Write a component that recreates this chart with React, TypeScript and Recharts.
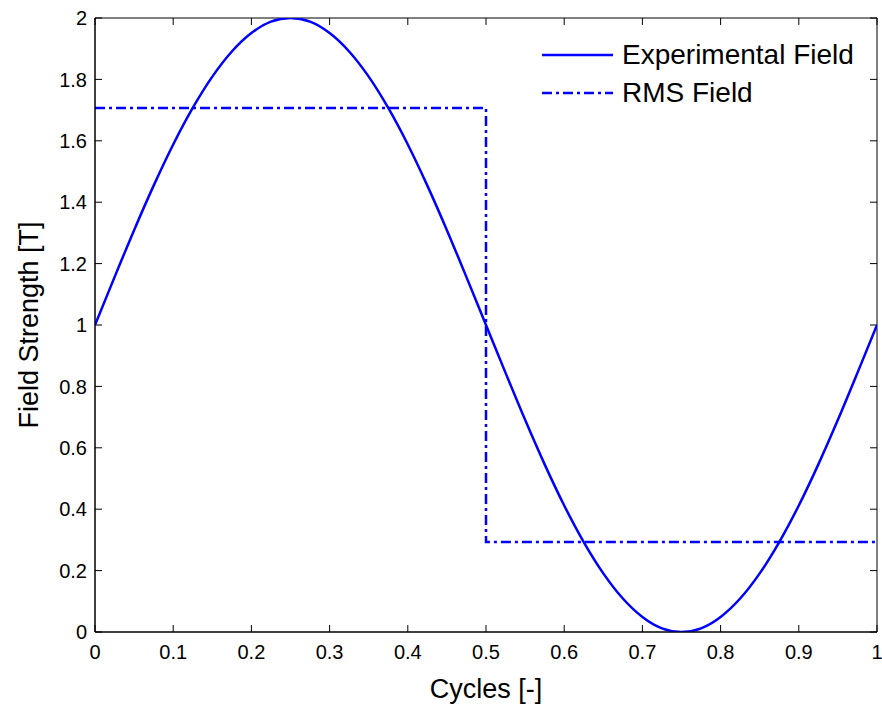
import React from "react";
import { LineChart, Line, XAxis, YAxis, Legend, ReferenceLine, ReferenceArea } from "recharts";

const FONT = '"Liberation Sans", Arial, Helvetica, sans-serif';
const BLUE = "#0000ff";

// Experimental field
const cycles = [
  0, 0.025, 0.05, 0.075, 0.1, 0.125, 0.15, 0.175, 0.2, 0.225, 0.25, 0.275, 0.3,
  0.325, 0.35, 0.375, 0.4, 0.425, 0.45, 0.475, 0.5, 0.525, 0.55, 0.575, 0.6,
  0.625, 0.65, 0.675, 0.7, 0.725, 0.75, 0.775, 0.8, 0.825, 0.85, 0.875, 0.9,
  0.925, 0.95, 0.975, 1,
];
const fieldValues = [
  1.0, 1.156, 1.309, 1.454, 1.588, 1.707, 1.809, 1.891, 1.951, 1.988, 2.0,
  1.988, 1.951, 1.891, 1.809, 1.707, 1.588, 1.454, 1.309, 1.156, 1.0, 0.844,
  0.691, 0.546, 0.412, 0.293, 0.191, 0.109, 0.049, 0.012, 0.0, 0.012, 0.049,
  0.109, 0.191, 0.293, 0.412, 0.546, 0.691, 0.844, 1.0,
];

// RMS field (step)
const rmsCycles = [0, 0.5, 0.5, 1];
const rmsValues = [1.707, 1.707, 0.293, 0.293];

const xTicks = [0, 0.1, 0.2, 0.3, 0.4, 0.5, 0.6, 0.7, 0.8, 0.9, 1];
const yTicks = [0, 0.2, 0.4, 0.6, 0.8, 1, 1.2, 1.4, 1.6, 1.8, 2];
const X_DOMAIN: [number, number] = [0, 1];
const Y_DOMAIN: [number, number] = [0, 2];

const seriesNames = ["Experimental Field", "RMS Field"];
const xLabel = "Cycles [-]";
const yLabel = "Field Strength [T]";

const fieldData = cycles.map((c, i) => ({ x: c, y: fieldValues[i] }));
const rmsData = rmsCycles.map((c, i) => ({ x: c, y: rmsValues[i] }));

// inward tick length as a fraction of each axis range (about 7px)
const X_TICK_FRAC = 0.009;
const Y_TICK_FRAC = 0.0114;

const DASH = "10 4 3 4";
const tickStyle = { fontSize: 20, fill: "#000", fontFamily: FONT };
const axisStyle = { stroke: "#000", strokeWidth: 1 };
const FRAME = "#000";

const LegendContent = () => (
  <div style={{ fontFamily: FONT, fontSize: 28, color: "#000", lineHeight: "38px" }}>
    {seriesNames.map((name, i) => (
      <div key={name} style={{ display: "flex", alignItems: "center", height: 38 }}>
        <svg width={82} height={38} style={{ display: "block" }}>
          <line
            x1={2}
            x2={73}
            y1={19}
            y2={19}
            stroke={BLUE}
            strokeWidth={2.5}
            strokeDasharray={i === 1 ? DASH : undefined}
          />
        </svg>
        <span style={{ whiteSpace: "nowrap" }}>{name}</span>
      </div>
    ))}
  </div>
);

export default function App() {
  const [x0, x1] = X_DOMAIN;
  const [y0, y1] = Y_DOMAIN;
  const dy = (y1 - y0) * Y_TICK_FRAC;
  const dx = (x1 - x0) * X_TICK_FRAC;
  return (
    <div style={{ position: "absolute", left: 0, top: 0, width: 882, height: 704, background: "#fff" }}>
      <LineChart
        width={882}
        height={704}
        margin={{ top: 18, right: 5, bottom: 0, left: 0 }}
        style={{ fontFamily: FONT }}
      >
        <XAxis
          dataKey="x"
          type="number"
          domain={X_DOMAIN}
          ticks={xTicks}
          height={72}
          tickSize={0}
          tickMargin={13}
          tickLine={false}
          axisLine={axisStyle}
          tick={tickStyle}
          interval={0}
          allowDataOverflow
          label={{ value: xLabel, position: "insideBottom", offset: 6, fontSize: 27, fill: "#000", fontFamily: FONT }}
        />
        <YAxis
          dataKey="y"
          type="number"
          domain={Y_DOMAIN}
          ticks={yTicks}
          width={95}
          tickSize={0}
          tickMargin={8}
          tickLine={false}
          axisLine={axisStyle}
          tick={tickStyle}
          interval={0}
          allowDataOverflow
          label={{
            value: yLabel,
            angle: -90,
            position: "insideLeft",
            offset: 28,
            style: { textAnchor: "middle" },
            fontSize: 27,
            fill: "#000",
            fontFamily: FONT,
          }}
        />
        <ReferenceArea x1={x0} x2={x1} y1={y0} y2={y1} fill="none" stroke={FRAME} strokeWidth={1} ifOverflow="visible" />
        {xTicks.map((t) => (
          <ReferenceLine
            key={`xb${t}`}
            segment={[{ x: t, y: y0 }, { x: t, y: y0 + dy }]}
            stroke={FRAME}
            strokeWidth={1}
            ifOverflow="visible"
          />
        ))}
        {xTicks.map((t) => (
          <ReferenceLine
            key={`xt${t}`}
            segment={[{ x: t, y: y1 }, { x: t, y: y1 - dy }]}
            stroke={FRAME}
            strokeWidth={1}
            ifOverflow="visible"
          />
        ))}
        {yTicks.map((t) => (
          <ReferenceLine
            key={`yl${t}`}
            segment={[{ x: x0, y: t }, { x: x0 + dx, y: t }]}
            stroke={FRAME}
            strokeWidth={1}
            ifOverflow="visible"
          />
        ))}
        {yTicks.map((t) => (
          <ReferenceLine
            key={`yr${t}`}
            segment={[{ x: x1, y: t }, { x: x1 - dx, y: t }]}
            stroke={FRAME}
            strokeWidth={1}
            ifOverflow="visible"
          />
        ))}
        <Legend
          layout="vertical"
          align="center"
          verticalAlign="middle"
          content={<LegendContent />}
          wrapperStyle={{ position: "absolute", left: 540, top: 36, width: 340, height: 80 }}
        />
        <Line
          data={fieldData}
          dataKey="y"
          name={seriesNames[0]}
          type="monotone"
          stroke={BLUE}
          strokeWidth={2.5}
          dot={false}
          activeDot={false}
          isAnimationActive={false}
        />
        <Line
          data={rmsData}
          dataKey="y"
          name={seriesNames[1]}
          type="linear"
          stroke={BLUE}
          strokeWidth={2.5}
          strokeDasharray={DASH}
          dot={false}
          activeDot={false}
          isAnimationActive={false}
        />
      </LineChart>
    </div>
  );
}
